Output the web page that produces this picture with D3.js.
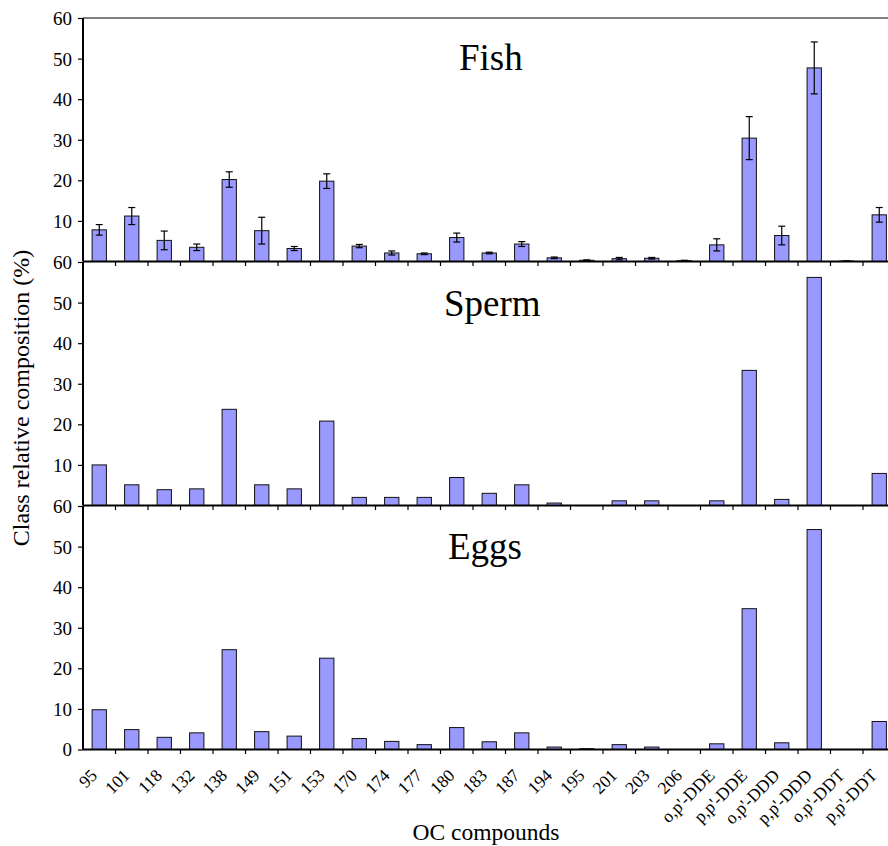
<!DOCTYPE html>
<html>
<head>
<meta charset="utf-8">
<script src="https://cdn.jsdelivr.net/npm/d3@7"></script>
<style>
  html, body { margin: 0; padding: 0; background: #fff; }
  svg { display: block; }
  svg text { font-family: "Liberation Serif", "Times New Roman", serif !important; fill: #000; }
</style>
</head>
<body>
<svg id="chart" width="888" height="846"></svg>
<script>
// OC compound classes on the x axis
const categories = ["95", "101", "118", "132", "138", "149", "151", "153", "170", "174",
  "177", "180", "183", "187", "194", "195", "201", "203", "206",
  "o,p'-DDE", "p,p'-DDE", "o,p'-DDD", "p,p'-DDD", "o,p'-DDT", "p,p'-DDT"];

// Fish: mean class relative composition (%) and error
const fishValues = [7.8, 11.2, 5.2, 3.5, 20.2, 7.6, 3.2, 19.8, 3.8, 2.1,
  1.9, 5.9, 2.1, 4.3, 0.9, 0.3, 0.7, 0.8, 0.2,
  4.1, 30.4, 6.4, 47.7, 0.1, 11.5];
const fishErrors = [1.3, 2.1, 2.3, 0.8, 1.9, 3.3, 0.5, 1.8, 0.4, 0.5,
  0.2, 1.1, 0.2, 0.6, 0.2, 0.1, 0.3, 0.2, 0.1,
  1.5, 5.3, 2.3, 6.4, 0.05, 1.8];

// Sperm
const spermValues = [10.0, 5.1, 3.9, 4.1, 23.7, 5.1, 4.1, 20.8, 2.0, 2.0,
  2.0, 6.9, 3.0, 5.1, 0.6, 0, 1.15, 1.15, 0,
  1.15, 33.3, 1.5, 56.2, 0, 7.9];

// Eggs
const eggValues = [9.8, 4.9, 3.0, 4.1, 24.6, 4.4, 3.3, 22.5, 2.7, 2.0,
  1.2, 5.4, 1.9, 4.1, 0.6, 0.2, 1.2, 0.6, 0,
  1.4, 34.7, 1.65, 54.2, 0, 6.9];

const yTicks = [0, 10, 20, 30, 40, 50, 60];
const panelNames = ["Fish", "Sperm", "Eggs"];

const svg = d3.select("#chart");
const left = 83;
const step = 32.5;
const panelTops = [18, 262, 506];
const panelH = 243.5;
const barFrac = 0.44;

const x = d3.scaleBand()
  .domain(categories)
  .range([left, left + step * categories.length])
  .padding(0);

const panels = [
  { name: panelNames[0], values: fishValues, errors: fishErrors, titleX: 459, titleY: 70 },
  { name: panelNames[1], values: spermValues, errors: null, titleX: 444, titleY: 316 },
  { name: panelNames[2], values: eggValues, errors: null, titleX: 448, titleY: 559 }
];

// top frame line
svg.append("line")
  .attr("x1", left).attr("x2", 888)
  .attr("y1", panelTops[0]).attr("y2", panelTops[0])
  .attr("stroke", "#000").attr("stroke-width", 1);

panels.forEach((p, i) => {
  const top = panelTops[i];
  const bottom = top + panelH;
  const y = d3.scaleLinear().domain([0, 60]).range([bottom, top]);
  const g = svg.append("g");

  // bars
  const bw = x.bandwidth() * barFrac;
  g.selectAll("rect.bar")
    .data(categories.map((c, k) => ({ c, v: p.values[k] })))
    .join("rect")
    .attr("class", "bar")
    .attr("x", d => x(d.c) + (x.bandwidth() - bw) / 2)
    .attr("y", d => y(d.v))
    .attr("width", bw)
    .attr("height", d => Math.max(0, y(0) - y(d.v)))
    .attr("fill", "#9999ff")
    .attr("stroke", "#111")
    .attr("stroke-width", 1);

  // error bars
  if (p.errors) {
    const eb = g.selectAll("g.err")
      .data(categories.map((c, k) => ({ c, v: p.values[k], e: p.errors[k] })))
      .join("g").attr("class", "err")
      .attr("stroke", "#000").attr("stroke-width", 1.2);
    const cx = d => x(d.c) + x.bandwidth() / 2;
    eb.append("line")
      .attr("x1", cx).attr("x2", cx)
      .attr("y1", d => y(d.v + d.e)).attr("y2", d => y(Math.max(0, d.v - d.e)));
    eb.append("line")
      .attr("x1", d => cx(d) - 3.5).attr("x2", d => cx(d) + 3.5)
      .attr("y1", d => y(d.v + d.e)).attr("y2", d => y(d.v + d.e));
    eb.append("line")
      .attr("x1", d => cx(d) - 3.5).attr("x2", d => cx(d) + 3.5)
      .attr("y1", d => y(Math.max(0, d.v - d.e))).attr("y2", d => y(Math.max(0, d.v - d.e)));
  }

  // y axis
  const ticks = i === panels.length - 1 ? yTicks : yTicks.filter(t => t > 0);
  const yAxis = g.append("g")
    .attr("transform", `translate(${left},0)`)
    .call(d3.axisLeft(y).tickValues(ticks).tickSize(5).tickPadding(6).tickFormat(d3.format("d")));
  yAxis.attr("font-family", null).attr("font-size", null);
  yAxis.select(".domain").attr("stroke-width", 2).attr("d", `M0,${top}V${bottom}`);
  yAxis.selectAll(".tick line").attr("stroke-width", 1.2);
  yAxis.selectAll(".tick text")
    .attr("font-size", 19)
    .attr("dy", "0.34em");

  // x axis baseline with ticks at category boundaries
  g.append("line")
    .attr("x1", left).attr("x2", 888)
    .attr("y1", bottom).attr("y2", bottom)
    .attr("stroke", "#000").attr("stroke-width", 2);
  const bounds = categories.slice(1).map(c => x(c)).concat([x.range()[1]]);
  g.selectAll("line.xt")
    .data(bounds)
    .join("line").attr("class", "xt")
    .attr("x1", d => d).attr("x2", d => d)
    .attr("y1", bottom).attr("y2", bottom + 4.5)
    .attr("stroke", "#000").attr("stroke-width", 1.2);

  // panel title
  g.append("text")
    .attr("x", p.titleX).attr("y", p.titleY)
    .attr("font-size", 37)
    .text(p.name);
});

// rotated category labels under the bottom panel
const labelY = panelTops[2] + panelH + 27;
svg.append("g").selectAll("text")
  .data(categories)
  .join("text")
  .attr("transform", d => `translate(${x(d) + x.bandwidth() / 2 - 1},${labelY}) rotate(-45)`)
  .attr("text-anchor", "end")
  .attr("font-size", 17.5)
  .text(d => d);

// axis titles
svg.append("text")
  .attr("x", 486).attr("y", 840)
  .attr("text-anchor", "middle")
  .attr("font-size", 23.5)
  .text("OC compounds");

svg.append("text")
  .attr("transform", "translate(29,398) rotate(-90)")
  .attr("text-anchor", "middle")
  .attr("font-size", 24)
  .text("Class relative composition (%)");
</script>
</body>
</html>
